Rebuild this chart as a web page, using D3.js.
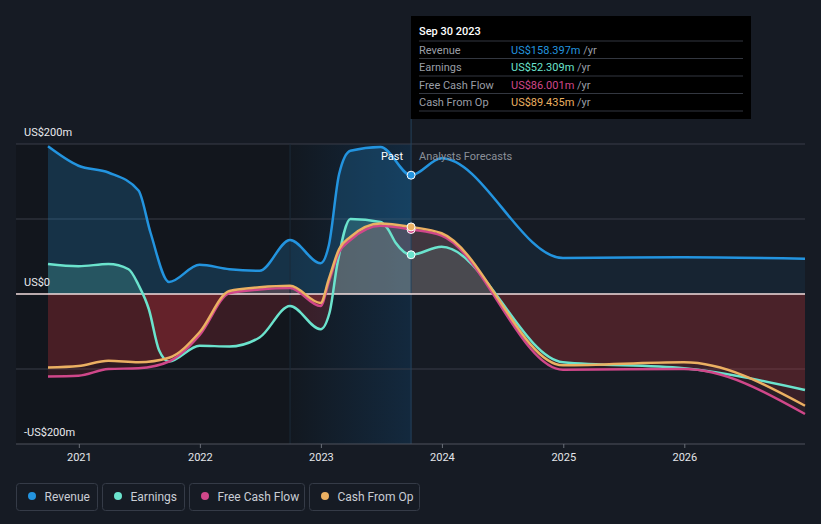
<!DOCTYPE html>
<html><head><meta charset="utf-8">
<script src="https://cdn.jsdelivr.net/npm/d3@7"></script>
<style>
html,body{margin:0;padding:0;background:#161b24;}
svg{display:block;font-family:Roboto,"Open Sans",sans-serif;}
</style>
</head><body>
<svg id="chart" width="821" height="524"></svg>
<script>
// ---------- DATA ----------
const yearTicks = ["2021","2022","2023","2024","2025","2026"];
const yTicks = [200, 0, -200];
const yTickLabels = ["US$200m", "US$0", "-US$200m"];
const gridValues = [200, 100, -100];

const revenue = [
  ["2020-09-30",197],["2020-12-31",171],["2021-03-31",162],["2021-06-30",138],["2021-08-05",82],
  ["2021-09-30",16],["2021-12-31",39],["2022-03-31",33],["2022-06-30",31],["2022-09-30",72],
  ["2022-12-31",41],["2023-01-25",65],["2023-02-25",160],["2023-03-31",191],["2023-06-30",196],
  ["2023-09-30",158.397],["2023-12-31",181],["2024-12-31",48],["2025-12-31",49],["2026-12-31",47]
];
const earnings = [
  ["2020-09-30",40],["2020-12-31",37],["2021-03-31",40],["2021-05-31",33],["2021-06-30",12],
  ["2021-07-31",-20],["2021-08-31",-75],["2021-09-30",-90],["2021-12-31",-69],["2022-03-31",-70],
  ["2022-06-30",-58],["2022-09-30",-16],["2022-12-31",-47],["2023-01-27",-25],["2023-02-20",41],
  ["2023-03-31",100],["2023-06-30",96],["2023-07-20",88],["2023-08-15",68],["2023-09-30",52.309],
  ["2023-12-31",63],["2024-12-31",-91],["2025-12-31",-99],["2026-12-31",-128]
];
const freeCashFlow = [
  ["2020-09-30",-110],["2020-12-31",-109],["2021-03-31",-100],["2021-06-30",-99],["2021-09-30",-90],
  ["2021-12-31",-55],["2022-03-31",1],["2022-06-30",6],["2022-09-30",8],["2022-12-31",-16],
  ["2023-01-25",16],["2023-02-25",56],["2023-03-31",72],["2023-06-30",91],["2023-09-30",86.001],
  ["2023-12-31",78],["2024-12-31",-101],["2025-12-31",-100],["2026-12-31",-160]
];
const cashFromOp = [
  ["2020-09-30",-98],["2020-12-31",-96],["2021-03-31",-89],["2021-06-30",-91],["2021-09-30",-85],
  ["2021-12-31",-51],["2022-03-31",4],["2022-06-30",9],["2022-09-30",11],["2022-12-31",-12],
  ["2023-01-25",20],["2023-02-25",60],["2023-03-31",76],["2023-06-30",94],["2023-09-30",89.435],
  ["2023-12-31",81],["2024-12-31",-95],["2025-12-31",-91],["2026-12-31",-149]
];
const seriesNames = ["Revenue","Earnings","Free Cash Flow","Cash From Op"];
const tooltipDate = "Sep 30 2023";
const tooltipValues = ["US$158.397m","US$52.309m","US$86.001m","US$89.435m"];
const pastLabel = "Past";
const forecastLabel = "Analysts Forecasts";
const domainStart = "2020-09-30", domainEnd = "2026-12-31", nowDate = "2023-09-30", bandStart = "2022-09-30";

// ---------- STYLE ----------
const colors = ["#2394df","#6be3cd","#d0478a","#ebb062"];
const red = "#d8363f";
const parse = d3.timeParse("%Y-%m-%d");
const svg = d3.select("#chart");
const W = 821, H = 524;
const x = d3.scaleTime().domain([parse(domainStart), parse(domainEnd)]).range([48, 805]);
const y = d3.scaleLinear().domain([-200, 200]).range([444, 144]);
const xNow = x(parse(nowDate)), xBand = x(parse(bandStart)), y0 = y(0);
const left = 16, right = 805;

const defs = svg.append("defs");
function clip(id, x0, y0_, w, h){
  defs.append("clipPath").attr("id", id).append("rect").attr("x", x0).attr("y", y0_).attr("width", w).attr("height", h);
}
clip("pastPos", 0, 0, xNow, y0);
clip("pastNeg", 0, y0, xNow, H - y0);
clip("futPos", xNow, 0, W - xNow, y0);
clip("futNeg", xNow, y0, W - xNow, H - y0);

const bandGrad = defs.append("linearGradient").attr("id","bandGrad").attr("x1","0").attr("x2","1").attr("y1","0").attr("y2","0");
bandGrad.append("stop").attr("offset","0").attr("stop-color","#121820");
bandGrad.append("stop").attr("offset","1").attr("stop-color","#13293e");

// backgrounds
svg.append("rect").attr("width", W).attr("height", H).attr("fill", "#161b24");
svg.append("rect").attr("x", left).attr("y", 144).attr("width", xBand - left).attr("height", 300).attr("fill", "#12161d");
svg.append("rect").attr("x", xBand).attr("y", 144).attr("width", xNow - xBand).attr("height", 300).attr("fill", "url(#bandGrad)");

// gridlines
svg.append("g").selectAll("line").data(gridValues).join("line")
  .attr("x1", left).attr("x2", right).attr("y1", d => y(d)).attr("y2", d => y(d))
  .attr("stroke", "#383d48").attr("stroke-width", 1);

const toPts = arr => arr.map(d => ({date: parse(d[0]), v: d[1]}));
const series = [revenue, earnings, freeCashFlow, cashFromOp].map(toPts);

const area = d3.area().x(d => x(d.date)).y0(y0).y1(d => y(d.v)).curve(d3.curveMonotoneX);
const line = d3.line().x(d => x(d.date)).y(d => y(d.v)).curve(d3.curveMonotoneX);

// fills: [pastPos, futPos, pastNeg, futNeg] opacity, pos color = series color, neg color = red
const fillOps = [
  [0.22, 0.08, 0, 0],
  [0.20, 0.13, 0.20, 0.10],
  [0.14, 0.11, 0.15, 0.10],
  [0.14, 0.11, 0.15, 0.10]
];
const gFill = svg.append("g");
series.forEach((pts, i) => {
  const ops = fillOps[i];
  [["pastPos", colors[i], ops[0]], ["futPos", colors[i], ops[1]], ["pastNeg", red, ops[2]], ["futNeg", red, ops[3]]]
    .forEach(([cid, col, op]) => {
      if (op > 0) gFill.append("path").attr("d", area(pts)).attr("fill", col).attr("fill-opacity", op).attr("clip-path", `url(#${cid})`);
    });
});

// band border lines
svg.append("line").attr("x1", xBand).attr("x2", xBand).attr("y1", 144).attr("y2", 444).attr("stroke", "#1b2a3a").attr("stroke-width", 1);
svg.append("line").attr("x1", xNow).attr("x2", xNow).attr("y1", 119).attr("y2", 444).attr("stroke", "#24425c").attr("stroke-width", 1);

// zero line
svg.append("line").attr("x1", left).attr("x2", right).attr("y1", y0).attr("y2", y0).attr("stroke", "#f3dede").attr("stroke-width", 1.3);

// bottom axis
svg.append("line").attr("x1", left).attr("x2", right).attr("y1", 444).attr("y2", 444).attr("stroke", "#4e535d").attr("stroke-width", 1);
const xAxis = d3.axisBottom(x).tickValues(yearTicks.map(t => parse(t + "-01-01"))).tickFormat(d3.timeFormat("%Y")).tickSize(4).tickSizeOuter(0);
const gx = svg.append("g").attr("transform", "translate(0,444)").call(xAxis);
gx.select(".domain").remove();
gx.selectAll(".tick line").attr("stroke", "#6a6f78");
gx.selectAll(".tick text").attr("fill", "#e4e6ea").attr("font-size", 11).attr("dy", "0.95em").attr("font-family", "Roboto, sans-serif");

// y labels
svg.append("g").selectAll("text").data(yTicks).join("text")
  .attr("x", 24).attr("y", d => y(d) - 8).text((d, i) => yTickLabels[i])
  .attr("fill", "#e8eaee").attr("font-size", 11);

// lines
series.forEach((pts, i) => {
  svg.append("path").attr("d", line(pts)).attr("fill", "none").attr("stroke", colors[i]).attr("stroke-width", 2.5).attr("stroke-linejoin","round");
});

// markers at now
[2, 3, 1, 0].forEach(i => {
  const p = series[i].find(d => +d.date === +parse(nowDate));
  svg.append("circle").attr("cx", x(p.date)).attr("cy", y(p.v)).attr("r", 4).attr("fill", colors[i]).attr("stroke", "#fff").attr("stroke-width", 1);
});

// past / forecast labels
svg.append("text").attr("x", xNow - 8).attr("y", 160).attr("text-anchor", "end").attr("fill", "#ffffff").attr("font-size", 11).text(pastLabel);
svg.append("text").attr("x", xNow + 8).attr("y", 160).attr("fill", "#8b9099").attr("font-size", 11).text(forecastLabel);

// tooltip
const tt = svg.append("g");
tt.append("rect").attr("x", 411).attr("y", 16).attr("width", 340).attr("height", 103).attr("fill", "#000000");
tt.append("text").attr("x", 419).attr("y", 35).attr("fill", "#ffffff").attr("font-size", 11).attr("font-weight", 500).text(tooltipDate);
const sepY = [41, 58.5, 76, 93.5, 111];
tt.selectAll("line").data(sepY).join("line").attr("x1", 419).attr("x2", 743).attr("y1", d => d).attr("y2", d => d).attr("stroke", "#333740").attr("stroke-width", 1);
seriesNames.forEach((n, i) => {
  const by = 53.5 + i * 17.5;
  tt.append("text").attr("x", 419).attr("y", by).attr("fill", "#9a9ea6").attr("font-size", 11).text(n);
  const t = tt.append("text").attr("x", 511).attr("y", by).attr("font-size", 11);
  t.append("tspan").attr("fill", colors[i]).text(tooltipValues[i]);
  t.append("tspan").attr("fill", "#9a9ea6").text(" /yr");
});

// legend
const legW = [81, 82, 115, 110];
let lx = 16.5;
seriesNames.forEach((n, i) => {
  const g = svg.append("g");
  g.append("rect").attr("x", lx).attr("y", 483.5).attr("width", legW[i]).attr("height", 27).attr("rx", 3).attr("fill", "none").attr("stroke", "#353b47");
  g.append("circle").attr("cx", lx + 15.5).attr("cy", 496).attr("r", 4).attr("fill", colors[i]);
  g.append("text").attr("x", lx + 28).attr("y", 500.5).attr("fill", "#c9cdd4").attr("font-size", 12).text(n);
  lx += legW[i] + 5;
});
</script>
</body></html>
